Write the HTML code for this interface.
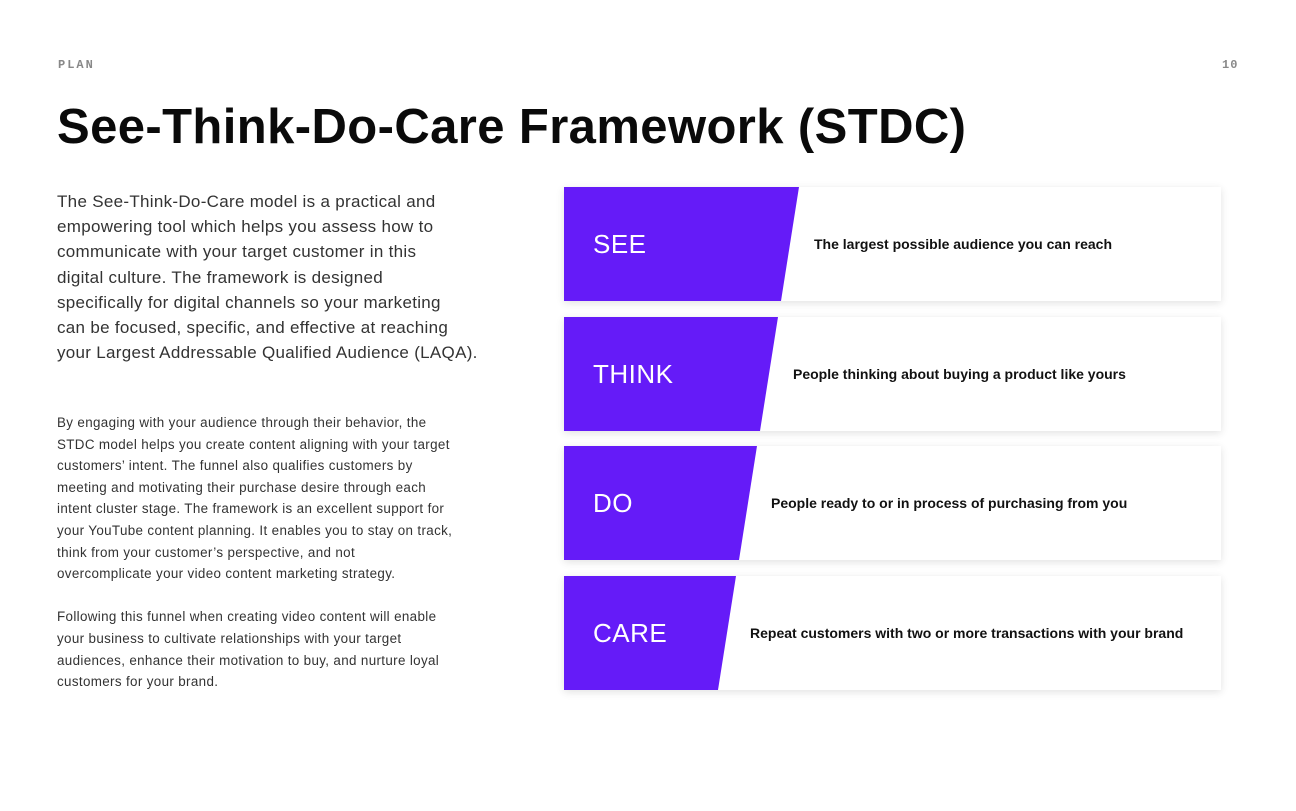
<!DOCTYPE html>
<html><head><style>
body{margin:0;width:1296px;height:811px;background:#fff;font-family:"Liberation Sans",sans-serif;position:relative;overflow:hidden}
.abs{position:absolute}
.hdr{font-family:"Liberation Mono",monospace;font-size:12px;color:#888;letter-spacing:2px;top:58px;font-weight:bold}
h1{position:absolute;left:57px;top:99px;margin:0;font-size:49px;font-weight:bold;color:#0a0a0a;letter-spacing:0.4px;white-space:nowrap}
.p1{left:57px;top:189px;font-size:17px;line-height:25.2px;color:#333;white-space:nowrap;letter-spacing:0.3px}
.p2{left:57px;top:412px;font-size:13.4px;line-height:21.6px;color:#333;white-space:nowrap;letter-spacing:0.35px}
.card{position:absolute;left:564px;width:657px;height:114px;background:#fff;box-shadow:0 2px 8px rgba(0,0,0,0.12)}
.card svg{position:absolute;left:0;top:0}
.lab{position:absolute;left:29px;top:42px;color:#fff;font-size:26px;letter-spacing:0.5px}
.desc{position:absolute;top:49px;font-size:14px;font-weight:bold;color:#111;white-space:nowrap}
</style></head><body>
<div class="abs hdr" style="left:58px">PLAN</div>
<div class="abs hdr" style="left:1222px;letter-spacing:1px">10</div>
<h1>See-Think-Do-Care Framework (STDC)</h1>
<div class="abs p1">The See-Think-Do-Care model is a practical and<br>empowering tool which helps you assess how to<br>communicate with your target customer in this<br>digital culture. The framework is designed<br>specifically for digital channels so your marketing<br>can be focused, specific, and effective at reaching<br>your Largest Addressable Qualified Audience (LAQA).</div>
<div class="abs p2">By engaging with your audience through their behavior, the<br>STDC model helps you create content aligning with your target<br>customers’ intent. The funnel also qualifies customers by<br>meeting and motivating their purchase desire through each<br>intent cluster stage. The framework is an excellent support for<br>your YouTube content planning. It enables you to stay on track,<br>think from your customer’s perspective, and not<br>overcomplicate your video content marketing strategy.<br><br>Following this funnel when creating video content will enable<br>your business to cultivate relationships with your target<br>audiences, enhance their motivation to buy, and nurture loyal<br>customers for your brand.</div>

<div class="card" style="top:187px"><svg width="657" height="114"><polygon points="0,0 235,0 217,114 0,114" fill="#651bf8"/></svg><div class="lab">SEE</div><div class="desc" style="left:250px">The largest possible audience you can reach</div></div>
<div class="card" style="top:317px"><svg width="657" height="114"><polygon points="0,0 214,0 196,114 0,114" fill="#651bf8"/></svg><div class="lab">THINK</div><div class="desc" style="left:229px">People thinking about buying a product like yours</div></div>
<div class="card" style="top:446px"><svg width="657" height="114"><polygon points="0,0 193,0 175,114 0,114" fill="#651bf8"/></svg><div class="lab">DO</div><div class="desc" style="left:207px">People ready to or in process of purchasing from you</div></div>
<div class="card" style="top:576px"><svg width="657" height="114"><polygon points="0,0 172,0 154,114 0,114" fill="#651bf8"/></svg><div class="lab">CARE</div><div class="desc" style="left:186px">Repeat customers with two or more transactions with your brand</div></div>
</body></html>
